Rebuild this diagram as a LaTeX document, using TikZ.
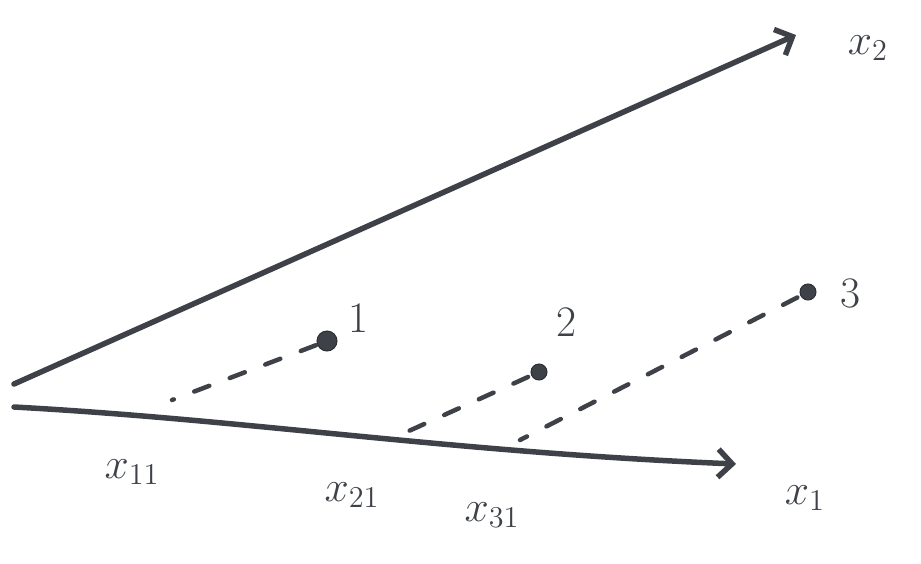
\documentclass[tikz,border=0pt]{standalone}
\usepackage{graphicx}
\usetikzlibrary{arrows.meta}
\definecolor{ink}{HTML}{3E4248}
\newcommand{\biglab}[1]{\scalebox{2.1}{$#1$}}
\begin{document}
\begin{tikzpicture}[x=1pt,y=-1pt,
  axis/.style={ink,line width=5.5pt,line cap=round,-{Straight Barb[length=14pt,width=28pt,line width=5.5pt]}},
  proj/.style={ink,line width=4.5pt,line cap=round,dash pattern=on 16pt off 22pt,shorten <=12pt},
  pt/.style={circle,fill=ink,draw=ink!70!black,line width=1pt,inner sep=0pt,minimum size=20pt},
  lab/.style={ink,font=\fontsize{20.74}{25}\selectfont,inner sep=0pt}]
\useasboundingbox (0,0) rectangle (921,563);
\coordinate (o2) at (14,384);
\coordinate (o1) at (14,407);
\coordinate (e2) at (796,35);
\coordinate (e1) at (736,464);
\draw[axis] (o2) -- (e2);
\draw[axis] (o1) .. controls (250,420) and (450,452) .. (e1);
\node[pt] (p1) at (327,341) {};
\node[pt,minimum size=16pt] (p2) at (539,372) {};
\node[pt,minimum size=16pt] (p3) at (808,292) {};
\coordinate (q1) at (172,400);
\coordinate (q2) at (400,435);
\coordinate (q3) at (520,440);
\draw[proj] (p1.center) -- (q1);
\draw[proj] (p2.center) -- (q2);
\draw[proj] (p3.center) -- (q3);
\node[lab] (l1) at (358,318) {\biglab{1}};
\node[lab] (l2) at (566,322) {\biglab{2}};
\node[lab] (l3) at (850,293) {\biglab{3}};
\node[lab] (lx2) at (868,48) {\biglab{x_{2}}};
\node[lab] (lx1) at (805,498) {\biglab{x_{1}}};
\node[lab] (lx11) at (132,472) {\biglab{x_{11}}};
\node[lab] (lx21) at (352,495) {\biglab{x_{21}}};
\node[lab] (lx31) at (492,515) {\biglab{x_{31}}};
\end{tikzpicture}
\end{document}
